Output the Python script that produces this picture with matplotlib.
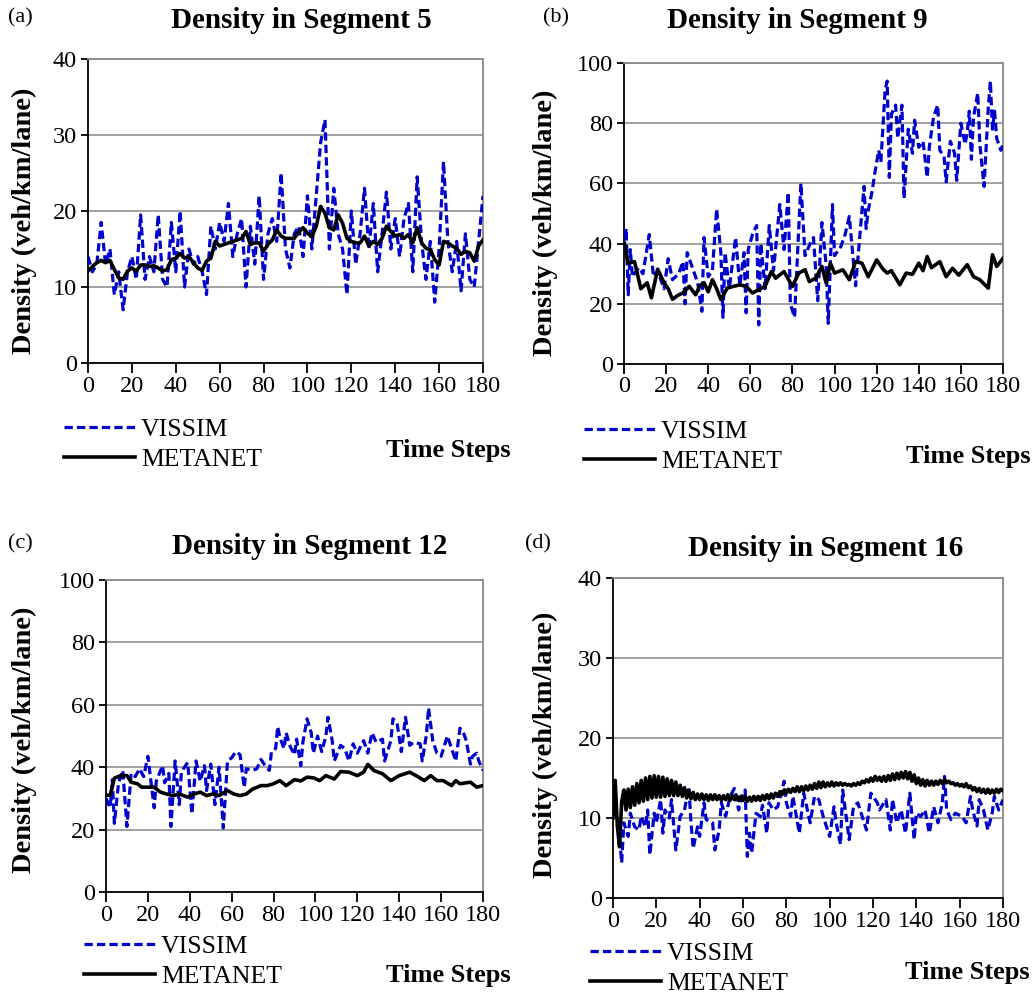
import matplotlib
matplotlib.use("Agg")
import matplotlib.pyplot as plt

plt.rcParams['font.family'] = ['Liberation Serif', 'DejaVu Serif']

# ---------------- data ----------------
a_vis_t = list(range(0, 181, 2))
a_vis_v = [14, 12, 13, 18.5, 13, 15, 9, 12, 7, 12, 14, 11, 19.5, 11, 14, 12, 19.5, 11, 10, 18.5,
           12, 20, 10, 15, 13, 14, 12, 9, 18, 15, 18.5, 16, 21, 14, 17, 19, 10, 18, 13, 22,
           11, 17, 19, 16, 25, 15, 12.5, 17, 18, 14, 22, 15, 22, 29, 32, 15, 23, 17, 15, 9,
           20, 13, 17, 23, 15, 21, 12, 17, 22.5, 15, 19, 14, 19, 21, 12, 24.5, 16, 11, 16, 8,
           15, 26.5, 16, 12, 16, 9.5, 17, 11, 10, 16, 22]
a_met_t = list(range(0, 181, 2))
a_met_v = [12.1, 12.7, 13.2, 13.5, 13.2, 13.5, 12.3, 11.2, 11.0, 12.1, 12.5, 12.1, 12.9, 12.9, 12.7,
           12.8, 12.5, 12.1, 12.3, 13.6, 13.8, 14.4, 13.8, 14.0, 13.2, 12.5, 12.2, 13.4, 13.8, 16.0,
           15.4, 15.6, 15.8, 16.0, 16.2, 16.4, 17.3, 15.6, 15.8, 15.8, 14.7, 15.6, 16.2, 17.5, 16.7,
           16.4, 16.4, 16.4, 17.2, 17.8, 17.1, 16.6, 18.0, 20.6, 19.7, 17.8, 17.5, 19.5, 18.4, 16.4,
           16.0, 15.8, 15.8, 16.7, 15.4, 16.0, 15.6, 16.4, 18.0, 17.3, 16.7, 16.9, 16.4, 16.9, 15.8,
           17.8, 15.8, 15.1, 14.9, 13.6, 12.9, 16.0, 15.8, 15.4, 15.1, 14.3, 14.7, 14.5, 13.4, 15.4,
           16.2]

b_vis_t = [0, 1, 2, 3, 4, 7, 9, 12, 14, 16, 19, 21, 23, 26, 28, 29, 30, 33, 35, 37, 38, 40, 42, 44,
           46, 47, 48, 50, 53, 55, 57, 58, 59, 61, 63, 64, 65, 67, 69, 71, 74, 76, 78, 79, 81, 84,
           86, 89, 90, 92, 94, 96, 97, 99, 100, 103, 105, 107, 110, 114, 115, 116, 118, 119, 121,
           122, 124, 125, 126, 127, 129, 130, 132, 133, 135, 137, 138, 140, 142, 144, 145, 147,
           149, 150, 152, 153, 155, 157, 158, 160, 162, 163, 164, 165, 166, 168, 169, 171, 173,
           174, 175, 176, 177, 179, 180]
b_vis_v = [38, 45, 23, 38, 29, 32, 30, 43, 29, 31, 25, 35, 28, 30, 34, 20, 37, 31, 27, 17.5, 42, 29,
           31, 51.5, 37, 15.5, 37, 25, 42, 26, 37, 17, 38, 43, 46, 13, 40, 25, 46, 31, 53, 38, 57,
           20, 15.5, 60, 36, 41, 42, 21, 47, 33, 13.5, 53, 36, 39, 43, 49, 26, 59, 45, 51, 58, 63,
           71, 67, 91, 94, 62, 83, 86, 75, 86, 55, 78, 70, 81, 72, 74, 62, 72, 82, 86, 71, 69,
           60.5, 74, 70, 61, 80, 73, 77, 84, 68, 82, 90, 73, 59, 85, 94, 78, 84, 75, 71, 73]
b_met_t = [0, 2, 5, 8, 11, 13, 16, 19, 21, 23, 26, 28, 31, 34, 36, 38, 40, 42, 44, 46, 49, 52, 55,
           58, 61, 64, 67, 70, 72, 76, 80, 83, 86, 88, 91, 94, 96, 98, 100, 104, 107, 110, 113,
           116, 120, 123, 125, 127, 131, 134, 137, 140, 142, 144, 146, 148, 150, 153, 156, 159,
           163, 166, 169, 173, 175, 177, 180]
b_met_v = [40, 33.5, 34, 25, 27, 22, 31.5, 27, 25, 21.5, 23, 23.6, 25.8, 23, 26, 27, 24, 28, 25,
           21.4, 25.2, 25.8, 26.3, 25.8, 23.6, 24.7, 25.8, 30.7, 28.5, 30.7, 25.8, 30.2, 31.3, 27.4,
           28.5, 32.4, 26.9, 33.5, 30.2, 31.3, 28, 34, 33.5, 29, 34.6, 31.5, 30.2, 31, 26.3, 30.2,
           29.8, 33.5, 31, 35.7, 32, 33, 34, 29, 31.8, 29.5, 33, 29, 28, 25.2, 36.3, 32.4, 35.1]

c_vis_t = [0, 2, 3, 4, 6, 8, 10, 12, 14, 16, 18, 20, 23, 24, 27, 28, 30, 31, 33, 35, 36, 39, 41,
           43, 45, 47, 48, 50, 52, 54, 56, 58, 60, 62, 64, 66, 67, 70, 72, 74, 76, 78, 79, 81, 82,
           83, 85, 86, 88, 90, 91, 93, 94, 96, 98, 99, 101, 103, 105, 106, 108, 109, 112, 114,
           116, 118, 120, 123, 125, 127, 129, 132, 133, 136, 137, 139, 141, 143, 145, 147, 150,
           151, 153, 154, 156, 158, 160, 163, 165, 167, 169, 171, 172, 174, 175, 177, 178, 180]
c_vis_v = [30, 27, 36, 22, 35, 39, 21, 38, 37, 39.5, 37, 43.5, 27, 35.5, 40.5, 35, 38, 21, 42, 28,
           38.5, 41.5, 25, 42, 35.5, 40.5, 32.5, 41, 28, 40, 20.5, 42, 43, 45, 44, 33.5, 39.5, 39,
           39.5, 42.5, 40.5, 39, 45, 46, 53, 49.5, 46, 51, 46.5, 44, 49, 40.5, 48, 55.5, 51, 44.5,
           50, 45, 50, 56, 48.5, 42, 47, 46, 42, 47.5, 44.5, 48.5, 44.5, 51, 48, 49, 42, 48.5, 55.5,
           54, 45, 56, 47, 48, 47.5, 42, 50.5, 59, 48.5, 44.5, 43.5, 50, 46, 42, 52.5, 50.5, 48.5,
           41, 43.5, 44.5, 42, 39]
c_met_t = [0, 2, 4, 7, 10, 12, 15, 17, 20, 23, 26, 29, 32, 35, 39, 42, 45, 48, 51, 54, 58, 61, 64,
           67, 70, 74, 77, 80, 83, 86, 90, 93, 96, 99, 102, 105, 109, 112, 116, 120, 123, 125, 128,
           132, 136, 140, 145, 148, 152, 155, 158, 161, 165, 167, 169, 174, 177, 180]
c_met_v = [31, 31, 36.5, 37.3, 37.3, 35.2, 34.7, 33.6, 33.6, 33.6, 32, 31.4, 30.9, 31.4, 30.4,
           31.4, 32, 30.9, 31.4, 30.9, 32.5, 31.4, 30.9, 31.4, 33, 34.1, 34.1, 34.7, 35.7, 34.1, 36,
           35.6, 36.8, 36.6, 35.7, 37.3, 36.2, 38.6, 38.4, 37.3, 38.4, 40.9, 38.9, 37.9, 35.7, 37.3,
           38.4, 37.3, 35.7, 37.3, 35.7, 35.7, 34.1, 35.7, 34.7, 35.2, 33.6, 34.1]

d_vis_t = [2, 3, 4, 5, 7, 8, 10, 12, 13, 15, 16, 17, 19, 20, 22, 23, 24, 26, 27, 29, 31, 32, 33, 35,
           36, 37, 39, 40, 42, 43, 46, 47, 49, 50, 52, 54, 56, 58, 59, 61, 62, 63, 64, 66, 68, 69,
           71, 72, 74, 76, 79, 80, 82, 83, 86, 88, 89, 91, 93, 95, 97, 100, 102, 103, 105, 106,
           108, 109, 111, 113, 115, 117, 119, 122, 123, 126, 128, 129, 131, 133, 135, 137, 139,
           140, 142, 144, 146, 148, 150, 152, 153, 154, 156, 158, 161, 163, 165, 166, 168, 169,
           171, 173, 175, 176, 178, 180]
d_vis_v = [9, 7.7, 4.4, 9.4, 7.7, 10.6, 8.9, 8.5, 10.2, 8.9, 11, 5.4, 10.6, 9.4, 12.3, 8.1, 11, 10,
           12.3, 6, 10.2, 10.6, 11, 13.9, 9.4, 6.2, 8.9, 7.7, 11.9, 9.8, 9.4, 6, 8.5, 11.9, 10.2,
           12.7, 13.7, 11, 12.3, 13.5, 5.2, 8.1, 5.6, 10.6, 10.2, 11.6, 8.1, 11.9, 11, 11.4, 14.6,
           11.9, 10.2, 12.7, 8.1, 13.1, 11.9, 9.4, 12.7, 12.3, 10.2, 7.7, 11.4, 9.4, 6.7, 13.5, 9.4,
           7.3, 11.4, 11.9, 10.2, 8.5, 13.1, 11.9, 11, 12.3, 8.5, 12.3, 9.4, 11, 8.1, 13.1, 7.3,
           10.6, 10.2, 11, 8.1, 11.4, 9.4, 11.9, 15.2, 11, 9.8, 10.6, 10.2, 9.4, 12.7, 11, 9, 12.3,
           11, 8.5, 10.6, 12.7, 11, 12.3]
d_met_t = list(range(0, 181))
d_met_v = [10, 14.7, 9, 6.4, 12, 13.5, 11, 13.6, 11.3, 13.9, 11.6, 14.3, 11.9, 14.7, 12.1, 15.0,
           12.3, 15.2, 12.5, 15.3, 12.6, 15.2, 12.6, 15.1, 12.7, 14.9, 12.8, 14.7, 12.8, 14.5, 12.8,
           14.1, 12.7, 13.8, 12.5, 13.4, 12.4, 13.2, 12.3, 13.0, 12.3, 13.0, 12.3, 12.9, 12.2, 12.9,
           12.3, 12.9, 12.3, 12.8, 12.2, 12.8, 12.3, 12.9, 12.2, 12.8, 12.3, 12.8, 12.2, 12.7, 12.2,
           12.7, 12.1, 12.6, 12.1, 12.7, 12.2, 12.7, 12.2, 12.8, 12.3, 12.9, 12.4, 13.0, 12.5, 13.1,
           12.7, 13.3, 12.9, 13.5, 13.1, 13.6, 13.2, 13.7, 13.3, 13.9, 13.3, 13.9, 13.4, 14.0, 13.5,
           14.1, 13.6, 14.3, 13.7, 14.5, 13.8, 14.5, 13.9, 14.4, 14.0, 14.5, 14.0, 14.4, 14.1, 14.4,
           14.1, 14.3, 14.1, 14.2, 14.0, 14.3, 14.1, 14.4, 14.2, 14.6, 14.4, 14.8, 14.5, 15.0, 14.6,
           15.2, 14.7, 15.1, 14.6, 15.2, 14.6, 15.3, 14.7, 15.5, 14.8, 15.6, 14.9, 15.7, 15.0, 15.8,
           14.9, 15.7, 14.6, 15.4, 14.3, 15.0, 14.1, 14.8, 14.0, 14.7, 14.1, 14.6, 14.1, 14.6, 14.2,
           14.7, 14.3, 14.8, 14.4, 14.6, 14.3, 14.4, 14.1, 14.3, 14.0, 14.2, 13.9, 14.3, 13.8, 14.0,
           13.5, 13.8, 13.3, 13.7, 13.2, 13.6, 13.1, 13.6, 13.1, 13.5, 13.1, 13.6, 13.2, 13.6, 13.4]

x_ticks = [0, 20, 40, 60, 80, 100, 120, 140, 160, 180]
series_labels = ["VISSIM", "METANET"]

panels = [
    dict(tag="(a)", title="Density in Segment 5", ymax=40, ystep=10,
         vis=(a_vis_t, a_vis_v), met=(a_met_t, a_met_v),
         box=(88, 59, 483, 363), tagxy=(8, 18), titlexy=(301, 21),
         ylab=(24, 221), leg=(64, 418), ts=(448, 450)),
    dict(tag="(b)", title="Density in Segment 9", ymax=100, ystep=20,
         vis=(b_vis_t, b_vis_v), met=(b_met_t, b_met_v),
         box=(624, 63, 1003, 364), tagxy=(543, 18), titlexy=(797, 21),
         ylab=(545, 223), leg=(584, 420), ts=(968, 456)),
    dict(tag="(c)", title="Density in Segment 12", ymax=100, ystep=20,
         vis=(c_vis_t, c_vis_v), met=(c_met_t, c_met_v),
         box=(106, 580, 483, 892), tagxy=(8, 544), titlexy=(310, 546),
         ylab=(24, 740), leg=(84, 935), ts=(448, 975)),
    dict(tag="(d)", title="Density in Segment 16", ymax=40, ystep=10,
         vis=(d_vis_t, d_vis_v), met=(d_met_t, d_met_v),
         box=(613, 578, 1003, 898), tagxy=(525, 544), titlexy=(826, 548),
         ylab=(545, 745), leg=(590, 942), ts=(967, 972)),
]

W, H = 1036, 996
fig = plt.figure(figsize=(W / 100, H / 100), dpi=100)

BLUE = '#0000cc'
GRID = '#999999'
SPINE_GRAY = '#888888'

for p in panels:
    l, t, r, b = p["box"]
    ax = fig.add_axes([l / W, 1 - b / H, (r - l) / W, (b - t) / H])
    vt, vv = p["vis"]
    mt, mv = p["met"]
    lv, = ax.plot(vt, vv, color=BLUE, lw=2.3, dashes=(2.6, 1.3), label=series_labels[0], zorder=3)
    lm, = ax.plot(mt, mv, color='black', lw=2.6, label=series_labels[1], zorder=4,
                  solid_joinstyle='round')
    ax.set_xlim(0, 180)
    ax.set_ylim(0, p["ymax"])
    ax.set_xticks(x_ticks)
    ax.set_yticks(list(range(0, p["ymax"] + 1, p["ystep"])))
    ax.grid(axis='y', color=GRID, lw=1.3)
    ax.set_axisbelow(True)
    for s in ('top', 'right'):
        ax.spines[s].set_color(SPINE_GRAY)
        ax.spines[s].set_linewidth(1.3)
    for s in ('left', 'bottom'):
        ax.spines[s].set_color('black')
        ax.spines[s].set_linewidth(1.3)
    ax.tick_params(axis='x', direction='out', length=7, width=1.3, labelsize=17.5, pad=2)
    ax.tick_params(axis='y', direction='out', length=5, width=1.3, labelsize=17.5, pad=3)

    fig.text(p["tagxy"][0] / W, 1 - p["tagxy"][1] / H, p["tag"], fontsize=16,
             ha='left', va='center')
    fig.text(p["titlexy"][0] / W, 1 - p["titlexy"][1] / H, p["title"], fontsize=21,
             fontweight='bold', ha='center', va='center')
    fig.text(p["ylab"][0] / W, 1 - p["ylab"][1] / H, "Density (veh/km/lane)", fontsize=20.5,
             fontweight='bold', rotation=90, ha='center', va='center')
    fig.text(p["ts"][0] / W, 1 - p["ts"][1] / H, "Time Steps", fontsize=19,
             fontweight='bold', ha='center', va='center')
    ax.legend(handles=[lv, lm], loc='upper left',
              bbox_to_anchor=(p["leg"][0] / W, 1 - p["leg"][1] / H),
              bbox_transform=fig.transFigure, frameon=False, fontsize=18.5,
              handlelength=2.75, handletextpad=0.25, labelspacing=0.28,
              borderpad=0, borderaxespad=0)

fig.savefig("out.png", dpi=100)
